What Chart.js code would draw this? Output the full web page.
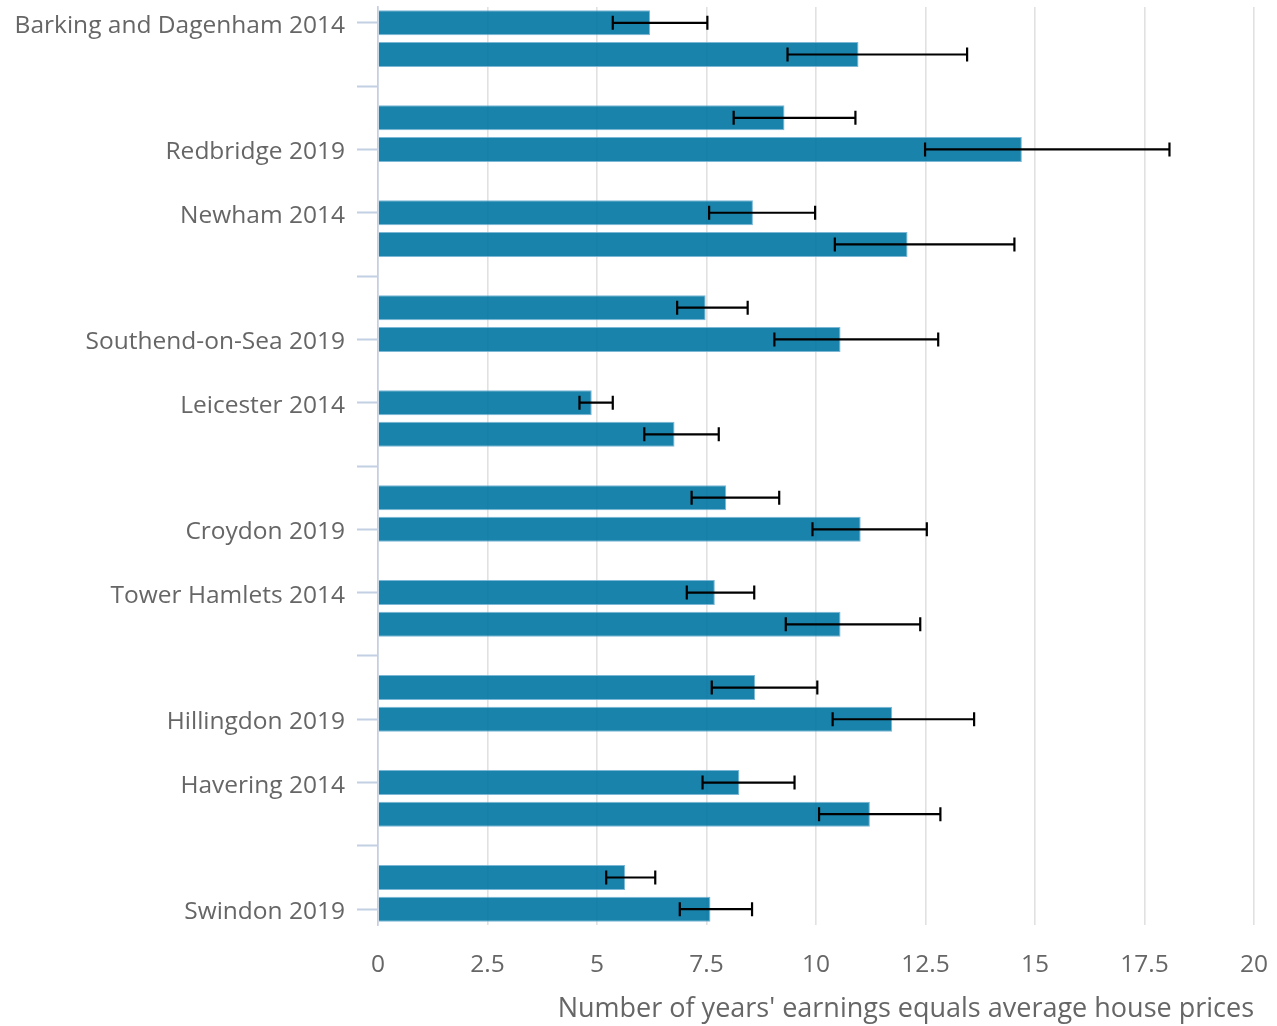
<!DOCTYPE html>
<html lang="en">
<head>
    <meta charset="UTF-8">
    <title>House price to earnings ratio</title>
    <script src="https://cdn.jsdelivr.net/npm/chart.js"></script>
    <style>
        body {
            margin: 0;
            padding: 0;
            background-color: #fff;
        }
        #wrap {
            width: 1277px;
            height: 1026px;
        }
    </style>
</head>
<body>
    <div id="wrap"><canvas id="myChart"></canvas></div>

    <script>
        // areas, each has a 2014 bar and a 2019 bar
        const areas = ['Barking and Dagenham', 'Redbridge', 'Newham', 'Southend-on-Sea', 'Leicester',
                       'Croydon', 'Tower Hamlets', 'Hillingdon', 'Havering', 'Swindon'];
        const years = ['2014', '2019'];

        const ratio2014 = [6.21, 9.28, 8.56, 7.48, 4.88, 7.95, 7.69, 8.61, 8.25, 5.64];
        const ratio2019 = [10.97, 14.70, 12.09, 10.56, 6.77, 11.02, 10.56, 11.74, 11.23, 7.59];

        const low2014 = [5.36, 8.12, 7.56, 6.83, 4.60, 7.16, 7.05, 7.62, 7.41, 5.21];
        const high2014 = [7.52, 10.90, 9.98, 8.44, 5.36, 9.16, 8.59, 10.03, 9.51, 6.33];
        const low2019 = [9.35, 12.49, 10.43, 9.05, 6.08, 9.92, 9.31, 10.38, 10.07, 6.89];
        const high2019 = [13.45, 18.07, 14.53, 12.79, 7.78, 12.53, 12.38, 13.61, 12.84, 8.54];

        const xTicks = [0, 2.5, 5, 7.5, 10, 12.5, 15, 17.5, 20];

        // build one row per bar, with an empty row between areas
        const labels = [];
        const values = [];
        const errLow = [];
        const errHigh = [];
        areas.forEach((a, i) => {
            if (i > 0) {
                labels.push('');
                values.push(null);
                errLow.push(null);
                errHigh.push(null);
            }
            labels.push(a + ' ' + years[0]);
            values.push(ratio2014[i]);
            errLow.push(low2014[i]);
            errHigh.push(high2014[i]);
            labels.push(a + ' ' + years[1]);
            values.push(ratio2019[i]);
            errLow.push(low2019[i]);
            errHigh.push(high2019[i]);
        });

        // error bars drawn with the x scale
        const errorBars = {
            id: 'errorBars',
            afterDatasetsDraw(chart) {
                const ctx = chart.ctx;
                const xs = chart.scales.x;
                const meta = chart.getDatasetMeta(0);
                ctx.save();
                ctx.strokeStyle = '#000';
                ctx.lineWidth = 2.2;
                meta.data.forEach((bar, i) => {
                    if (values[i] === null) return;
                    const y = bar.y;
                    const x1 = xs.getPixelForValue(errLow[i]);
                    const x2 = xs.getPixelForValue(errHigh[i]);
                    ctx.beginPath();
                    ctx.moveTo(x1, y);
                    ctx.lineTo(x2, y);
                    ctx.moveTo(x1, y - 7);
                    ctx.lineTo(x1, y + 7);
                    ctx.moveTo(x2, y - 7);
                    ctx.lineTo(x2, y + 7);
                    ctx.stroke();
                });
                ctx.restore();
            }
        };

        const ctx = document.getElementById('myChart').getContext('2d');
        new Chart(ctx, {
            type: 'bar',
            data: {
                labels: labels,
                datasets: [{
                    data: values,
                    backgroundColor: 'rgba(0, 117, 162, 0.9)',
                    borderColor: 'rgba(110, 175, 210, 0.9)',
                    borderWidth: 1,
                    categoryPercentage: 1,
                    barPercentage: 0.79
                }]
            },
            options: {
                indexAxis: 'y',
                responsive: true,
                maintainAspectRatio: false,
                animation: false,
                layout: {
                    padding: { top: 7, right: 23, bottom: 0, left: 0 }
                },
                plugins: {
                    legend: { display: false },
                    tooltip: { enabled: false }
                },
                scales: {
                    x: {
                        type: 'linear',
                        min: 0,
                        max: 20,
                        afterBuildTicks: scale => {
                            scale.ticks = xTicks.map(v => ({ value: v }));
                        },
                        afterFit: scale => {
                            scale.height = 101;
                            scale.paddingLeft = 0;
                            scale.paddingRight = 0;
                        },
                        grid: {
                            color: '#e1e1e1',
                            lineWidth: 1.6,
                            drawTicks: false
                        },
                        border: { display: false },
                        ticks: {
                            color: '#666',
                            font: { family: 'Open Sans', size: 24.5 },
                            padding: 25
                        },
                        title: {
                            display: true,
                            text: "Number of years' earnings equals average house prices",
                            align: 'end',
                            color: '#666',
                            font: { family: 'Open Sans', size: 27 },
                            padding: { top: 0, bottom: 0 }
                        }
                    },
                    y: {
                        type: 'category',
                        afterFit: scale => {
                            scale.width = 378;
                            scale.paddingTop = 0;
                            scale.paddingBottom = 0;
                        },
                        grid: {
                            offset: false,
                            drawOnChartArea: false,
                            tickLength: 21,
                            tickWidth: 2,
                            tickColor: c => (c.index % 2 === 0 ? '#c3cfe2' : 'rgba(0,0,0,0)')
                        },
                        border: { color: '#c3cfe2', width: 1.6 },
                        ticks: {
                            autoSkip: false,
                            color: '#666',
                            font: { family: 'Open Sans', size: 24.5 },
                            padding: 12,
                            labelOffset: 3,
                            callback: function (value, index) {
                                return index % 2 === 0 ? this.getLabelForValue(value) : '';
                            }
                        }
                    }
                }
            },
            plugins: [errorBars]
        });
    </script>
</body>
</html>
